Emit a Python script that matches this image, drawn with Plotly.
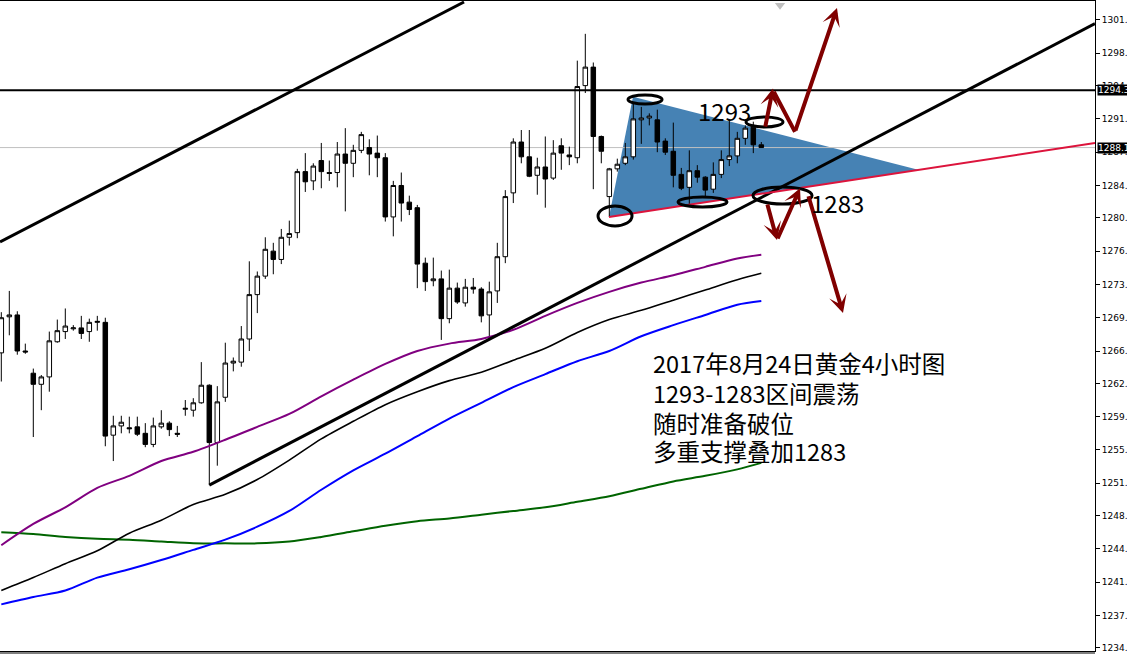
import plotly.graph_objects as go

# ---------------- data (bar index, prices) ----------------
bar_index = list(range(96))
opens = [1265.9, 1269.8, 1270.0, 1266.1, 1263.7, 1262.5, 1263.3, 1267.1, 1268.2, 1268.5,
         1268.6, 1268.2, 1269.2, 1269.2, 1257.0, 1258.0, 1257.8, 1257.9, 1257.2, 1256.0,
         1257.9, 1258.3, 1257.2, 1259.8, 1259.7, 1260.5, 1262.4, 1256.2, 1261.1, 1264.8,
         1264.9, 1267.4, 1272.2, 1274.2, 1276.9, 1276.0, 1278.4, 1278.9, 1285.5, 1284.5,
         1286.7, 1285.4, 1285.4, 1287.4, 1286.4, 1287.8, 1288.1, 1287.5, 1287.0, 1280.6,
         1284.0, 1282.2, 1281.6, 1275.6, 1273.7, 1273.9, 1269.6, 1272.9, 1271.3, 1273.0,
         1272.8, 1270.0, 1272.6, 1276.3, 1283.2, 1288.7, 1287.1, 1285.1, 1286.0, 1284.8,
         1288.3, 1287.3, 1287.0, 1294.8, 1296.8, 1289.3, 1282.8, 1285.8, 1286.4, 1287.1,
         1291.1, 1291.3, 1291.1, 1288.8, 1287.7, 1285.2, 1283.8, 1285.6, 1284.9, 1283.6,
         1285.2, 1286.8, 1287.2, 1289.1, 1290.3, 1288.4]
highs = [1270.3, 1272.6, 1270.4, 1266.9, 1264.2, 1263.5, 1268.2, 1269.5, 1270.7, 1268.9,
         1269.9, 1269.6, 1269.9, 1269.7, 1259.1, 1259.1, 1259.0, 1259.0, 1258.3, 1258.9,
         1259.7, 1258.5, 1258.0, 1260.8, 1261.0, 1264.9, 1262.5, 1262.3, 1267.0, 1265.4,
         1268.8, 1275.8, 1274.7, 1278.4, 1277.8, 1279.3, 1280.2, 1285.8, 1287.5, 1286.4,
         1288.6, 1286.7, 1288.7, 1290.2, 1288.4, 1289.8, 1289.0, 1289.4, 1287.5, 1284.5,
         1285.4, 1282.9, 1281.9, 1276.2, 1276.2, 1274.8, 1274.9, 1273.5, 1273.9, 1274.0,
         1273.0, 1273.6, 1277.8, 1283.5, 1289.1, 1290.0, 1290.0, 1287.0, 1289.3, 1288.9,
         1289.1, 1288.2, 1297.5, 1300.4, 1297.3, 1289.4, 1285.9, 1286.9, 1288.6, 1292.9,
         1292.5, 1291.8, 1292.2, 1289.1, 1290.8, 1285.9, 1287.8, 1286.2, 1285.0, 1286.5,
         1287.8, 1291.1, 1289.8, 1290.5, 1290.9, 1288.7]
lows = [1262.8, 1267.8, 1265.7, 1265.8, 1256.8, 1259.7, 1261.7, 1267.0, 1267.4, 1268.3,
        1267.4, 1267.1, 1268.3, 1255.8, 1254.2, 1257.2, 1257.2, 1256.9, 1255.7, 1255.7,
        1257.7, 1256.9, 1256.8, 1259.1, 1259.0, 1260.4, 1251.6, 1253.7, 1260.6, 1263.9,
        1264.4, 1266.1, 1270.2, 1273.9, 1274.4, 1275.5, 1277.5, 1278.3, 1283.3, 1283.5,
        1283.7, 1284.5, 1283.8, 1281.2, 1284.9, 1287.5, 1285.1, 1284.9, 1280.1, 1278.5,
        1280.1, 1280.8, 1272.9, 1272.6, 1273.1, 1267.3, 1269.1, 1271.2, 1270.9, 1272.3,
        1269.2, 1267.6, 1271.3, 1275.6, 1282.1, 1286.4, 1284.9, 1283.0, 1281.6, 1284.6,
        1285.7, 1286.2, 1286.4, 1294.0, 1283.6, 1286.4, 1280.6, 1285.5, 1286.2, 1286.8,
        1288.5, 1290.5, 1287.6, 1287.3, 1283.8, 1283.5, 1281.9, 1284.3, 1282.8, 1283.2,
        1284.8, 1286.1, 1286.4, 1288.4, 1287.5, 1288.1]
closes = [1269.7, 1270.0, 1266.1, 1266.0, 1262.5, 1263.3, 1267.2, 1268.3, 1268.8, 1268.6,
          1268.0, 1269.2, 1269.3, 1256.9, 1258.0, 1258.4, 1257.7, 1257.1, 1256.0, 1258.0,
          1258.3, 1257.6, 1257.1, 1259.9, 1260.5, 1262.4, 1256.2, 1260.6, 1264.8, 1265.0,
          1267.4, 1272.2, 1274.2, 1277.1, 1276.0, 1278.4, 1278.8, 1285.5, 1284.4, 1286.1,
          1285.5, 1285.3, 1287.4, 1286.4, 1287.8, 1289.5, 1287.4, 1287.0, 1280.6, 1284.0,
          1282.1, 1281.4, 1275.5, 1273.6, 1273.9, 1269.6, 1272.9, 1271.4, 1273.0, 1272.8,
          1269.9, 1272.5, 1276.3, 1282.8, 1288.7, 1287.1, 1285.0, 1286.0, 1284.7, 1287.5,
          1287.5, 1287.1, 1294.7, 1296.8, 1289.3, 1287.7, 1285.8, 1286.3, 1287.1, 1291.2,
          1291.3, 1291.5, 1288.7, 1287.6, 1285.1, 1283.7, 1285.6, 1284.9, 1283.5, 1285.2,
          1286.8, 1287.2, 1289.1, 1290.2, 1288.4, 1288.1]

# moving averages (sampled at bar indices)
ma_index = [0, 4, 8, 12, 16, 20, 24, 28, 32, 36, 40, 44, 48, 52, 56, 60, 64, 68, 72, 76, 80, 84, 88, 92, 95]
ma_purple = [1245.1, 1247.4, 1249.2, 1251.3, 1252.6, 1254.2, 1255.2, 1256.5, 1257.9, 1259.3, 1261.2, 1263.0,
             1264.7, 1266.1, 1266.9, 1267.4, 1268.4, 1269.9, 1271.3, 1272.5, 1273.5, 1274.3, 1275.2, 1276.1, 1276.5]
ma_black = [1240.2, 1241.6, 1243.1, 1244.5, 1246.4, 1247.8, 1249.5, 1250.6, 1252.2, 1254.3, 1256.6, 1258.5,
            1260.3, 1261.7, 1262.9, 1263.8, 1265.1, 1266.4, 1268.1, 1269.5, 1270.5, 1271.6, 1272.7, 1273.8, 1274.5]
ma_blue = [1238.7, 1239.5, 1240.2, 1241.6, 1242.5, 1243.5, 1244.6, 1245.7, 1247.1, 1248.8, 1251.1, 1253.2,
           1255.0, 1256.9, 1258.8, 1260.5, 1262.2, 1263.6, 1265.0, 1266.1, 1267.7, 1268.9, 1270.0, 1271.1, 1271.5]
ma_green = [1246.5, 1246.3, 1246.0, 1245.8, 1245.7, 1245.5, 1245.3, 1245.3, 1245.3, 1245.5, 1246.0, 1246.6,
            1247.2, 1247.7, 1248.0, 1248.4, 1248.8, 1249.2, 1249.8, 1250.4, 1251.2, 1252.0, 1252.6, 1253.3, 1254.0]

# price axis
y_tick_values = [1301.9, 1298.3, 1294.8, 1291.2, 1287.6, 1284.0, 1280.5, 1276.9, 1273.3, 1269.7,
                 1266.1, 1262.6, 1259.0, 1255.4, 1251.8, 1248.3, 1244.7, 1241.1, 1237.5, 1234.0]
x_range = [-0.1625, 136.71]
y_range = [1233.66, 1303.95]

# drawn objects (bar index, price)
resistance_price = 1294.3
bid_price = 1288.1
channel_upper_idx = [-0.16, 57.84]
channel_upper_price = [1277.9, 1303.84]
channel_lower_idx = [26.0, 136.71]
channel_lower_price = [1251.6, 1301.5]
support_idx = [75.96, 136.71]
support_price = [1280.6, 1288.6]
triangle_idx = [75.96, 78.96, 114.6]
triangle_price = [1280.6, 1293.6, 1285.7]
# ellipses: x0, x1, y0, y1
ellipses = [
    (74.59, 78.84, 1279.62, 1281.78),
    (78.34, 82.59, 1292.81, 1293.79),
    (84.59, 90.71, 1281.67, 1282.76),
    (93.09, 97.71, 1290.33, 1291.41),
    (93.96, 101.34, 1282.0, 1283.84),
]
# arrows: tail idx, tail price, head idx, head price, has head
arrows = [
    (95.46, 1290.2, 96.46, 1294.5, True),
    (96.46, 1294.3, 99.21, 1289.8, False),
    (99.21, 1289.8, 104.46, 1303.2, True),
    (95.71, 1282.1, 96.96, 1278.1, True),
    (96.96, 1278.1, 99.84, 1283.7, True),
    (100.84, 1283.0, 105.21, 1270.2, True),
]
label_1293 = (90.34, 1292.16, "1293")
label_1283 = (104.46, 1282.16, "1283")
note_idx = 81.21
note_lines = ["2017年8月24日黄金4小时图", "1293-1283区间震荡", "随时准备破位", "多重支撑叠加1283"]
note_prices = [1264.8, 1261.6, 1258.3, 1255.3]
shift_marker = (97.34, 1303.5)

# ---------------- figure ----------------
fig = go.Figure()

for vals, col, w in [(ma_green, "#006400", 2), (ma_blue, "#0000FF", 2),
                     (ma_black, "#000000", 1.6), (ma_purple, "#800080", 2)]:
    fig.add_trace(go.Scatter(x=ma_index, y=vals, mode="lines",
                             line=dict(color=col, width=w, shape="spline", smoothing=0.8),
                             hoverinfo="skip"))

fig.add_trace(go.Candlestick(
    x=bar_index, open=opens, high=highs, low=lows, close=closes,
    increasing=dict(line=dict(color="black", width=1), fillcolor="white"),
    decreasing=dict(line=dict(color="black", width=1), fillcolor="black"),
    whiskerwidth=0, hoverinfo="skip"))

fig.add_trace(go.Scatter(x=[shift_marker[0]], y=[shift_marker[1]], mode="markers",
                         marker=dict(symbol="triangle-down", size=9, color="#c0c0c0"),
                         cliponaxis=False, hoverinfo="skip"))

shapes = []
tri_path = "M {},{} L {},{} L {},{} Z".format(triangle_idx[0], triangle_price[0],
                                              triangle_idx[1], triangle_price[1],
                                              triangle_idx[2], triangle_price[2])
shapes.append(dict(type="path", xref="x", yref="y", path=tri_path, fillcolor="#4682B4",
                   line=dict(width=0), layer="below"))
shapes.append(dict(type="line", xref="x", yref="y", x0=x_range[0], x1=x_range[1],
                   y0=bid_price, y1=bid_price, line=dict(color="#c0c0c0", width=1), layer="below"))
shapes.append(dict(type="line", xref="x", yref="y", x0=x_range[0], x1=x_range[1],
                   y0=resistance_price, y1=resistance_price, line=dict(color="black", width=2)))
shapes.append(dict(type="line", xref="x", yref="y", x0=channel_upper_idx[0], x1=channel_upper_idx[1],
                   y0=channel_upper_price[0], y1=channel_upper_price[1], line=dict(color="black", width=3)))
shapes.append(dict(type="line", xref="x", yref="y", x0=channel_lower_idx[0], x1=channel_lower_idx[1],
                   y0=channel_lower_price[0], y1=channel_lower_price[1], line=dict(color="black", width=3)))
shapes.append(dict(type="line", xref="x", yref="y", x0=support_idx[0], x1=support_idx[1],
                   y0=support_price[0], y1=support_price[1], line=dict(color="#DC143C", width=2)))
for x0, x1, y0, y1 in ellipses:
    shapes.append(dict(type="circle", xref="x", yref="y", x0=x0, x1=x1, y0=y0, y1=y1,
                       line=dict(color="black", width=3)))
shapes.append(dict(type="line", xref="paper", yref="paper", x0=0, x1=1, y0=-2 / 650, y1=-2 / 650,
                   line=dict(color="black", width=1)))

annotations = []
for tx, ty, hx, hy, head in arrows:
    annotations.append(dict(x=hx, y=hy, ax=tx, ay=ty, xref="x", yref="y", axref="x", ayref="y",
                            text="", showarrow=True, arrowhead=3 if head else 0,
                            arrowsize=0.75, arrowwidth=4, arrowcolor="#800000", standoff=0))
for lx, ly, lt in [label_1293, label_1283]:
    annotations.append(dict(x=lx, y=ly, xref="x", yref="y", text=lt, showarrow=False,
                            font=dict(family="Noto Sans CJK SC", size=24, color="black"),
                            xanchor="center", yanchor="middle"))
for line_text, py in zip(note_lines, note_prices):
    annotations.append(dict(x=note_idx, y=py, xref="x", yref="y", text=line_text, showarrow=False,
                            font=dict(family="Noto Sans CJK SC", size=23.5, color="black"),
                            xanchor="left", yanchor="middle"))
for price_val in [resistance_price, bid_price]:
    annotations.append(dict(xref="paper", x=1, yref="y", y=price_val, text=f"{price_val:.1f}",
                            showarrow=False, xanchor="left", yanchor="middle", xshift=2,
                            bgcolor="black", borderpad=0,
                            font=dict(family="DejaVu Sans", size=9, color="white")))

fig.update_layout(
    width=1127, height=658,
    margin=dict(l=0, r=32, t=1, b=7, pad=0, autoexpand=False),
    paper_bgcolor="white", plot_bgcolor="white",
    showlegend=False,
    boxgap=0.25, boxgroupgap=0.25,
    shapes=shapes, annotations=annotations,
    xaxis=dict(range=x_range, showticklabels=False, showgrid=False, zeroline=False,
               showline=True, mirror=True, linecolor="black", linewidth=1, ticks="",
               rangeslider=dict(visible=False), fixedrange=True, automargin=False),
    yaxis=dict(side="right", range=y_range, tickvals=y_tick_values,
               ticktext=[f"{v:.1f}" for v in y_tick_values],
               ticks="outside", ticklen=4, tickcolor="black",
               tickfont=dict(family="DejaVu Sans", size=9, color="black"),
               showgrid=False, zeroline=False, showline=True, linecolor="black", linewidth=1,
               fixedrange=True, automargin=False),
)

fig.write_html(
    "out.html",
    config={"displayModeBar": False},
    post_script="document.body.style.margin='0px';document.body.style.overflow='hidden';",
)
